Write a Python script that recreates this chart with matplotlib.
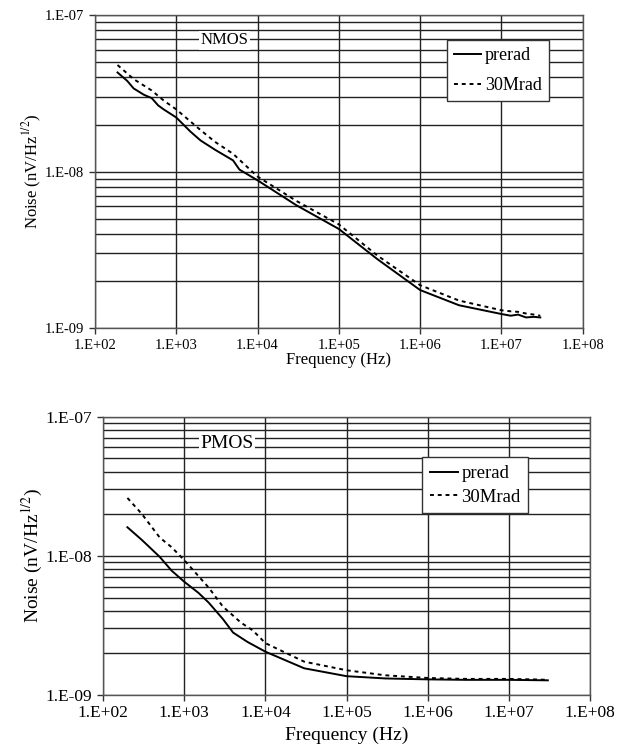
import numpy as np
import matplotlib.pyplot as plt
from matplotlib.ticker import FixedLocator, FuncFormatter, NullFormatter, NullLocator

plt.rcParams['font.family'] = ['Liberation Serif', 'DejaVu Serif']
plt.rcParams['mathtext.fontset'] = 'stix'

# axis ticks
x_ticks = [1e2, 1e3, 1e4, 1e5, 1e6, 1e7, 1e8]
y_ticks = [1e-9, 1e-8, 1e-7]
y_minor = [m * d for d in (1e-9, 1e-8) for m in range(2, 10)]

# NMOS data (Hz, V/Hz^1/2)
nmos_f_pre = [190, 250, 300, 400, 500, 600, 700, 1000, 1500, 2000, 3000, 5000, 6000,
              1e4, 3e4, 1e5, 3e5, 1e6, 3e6, 1e7, 1.3e7, 1.6e7, 2e7, 2.5e7, 3e7]
nmos_pre = [4.3e-8, 3.8e-8, 3.4e-8, 3.1e-8, 2.95e-8, 2.65e-8, 2.5e-8, 2.22e-8, 1.8e-8,
            1.58e-8, 1.38e-8, 1.18e-8, 1.03e-8, 8.8e-9, 6.1e-9, 4.3e-9, 2.75e-9, 1.75e-9,
            1.4e-9, 1.23e-9, 1.2e-9, 1.22e-9, 1.17e-9, 1.18e-9, 1.17e-9]
nmos_f_rad = [190, 300, 500, 700, 1000, 2000, 3000, 5000, 1e4, 3e4, 1e5, 3e5, 1e6,
              3e6, 1e7, 1.3e7, 1.6e7, 2e7, 2.5e7, 3e7]
nmos_rad = [4.8e-8, 3.9e-8, 3.3e-8, 2.85e-8, 2.5e-8, 1.84e-8, 1.55e-8, 1.3e-8, 9.3e-9,
            6.5e-9, 4.6e-9, 2.9e-9, 1.88e-9, 1.5e-9, 1.3e-9, 1.28e-9, 1.27e-9, 1.24e-9,
            1.22e-9, 1.2e-9]

# PMOS data
pmos_f_pre = [200, 300, 500, 700, 1000, 1500, 2000, 3000, 4000, 6000, 1e4, 3e4, 1e5,
              3e5, 1e6, 3e6, 1e7, 3e7]
pmos_pre = [1.6e-8, 1.3e-8, 9.8e-9, 7.8e-9, 6.5e-9, 5.4e-9, 4.6e-9, 3.5e-9, 2.8e-9,
            2.4e-9, 2.04e-9, 1.55e-9, 1.36e-9, 1.31e-9, 1.29e-9, 1.28e-9, 1.28e-9, 1.27e-9]
pmos_f_rad = [200, 300, 500, 700, 1000, 2000, 3000, 5000, 7000, 1e4, 3e4, 1e5, 3e5,
              1e6, 3e6, 1e7, 2e7, 3e7]
pmos_rad = [2.6e-8, 2.0e-8, 1.35e-8, 1.15e-8, 9.3e-9, 5.9e-9, 4.3e-9, 3.3e-9, 2.9e-9,
            2.35e-9, 1.73e-9, 1.5e-9, 1.38e-9, 1.32e-9, 1.3e-9, 1.3e-9, 1.29e-9, 1.28e-9]

ticklabel = FuncFormatter(lambda v, p: "1.E%+03d" % int(round(np.log10(v))))


def panel(ax, f1, y1, f2, y2, name, name_xy, leg_box, fs, lab_fs, leg_fs, leg_sp, xpad):
    ax.plot(f1, y1, color='black', lw=1.4, ls='-', label='prerad', zorder=3)
    ax.plot(f2, y2, color='black', lw=1.4, ls=(0, (2, 2)), label='30Mrad', zorder=3)
    ax.set_xscale('log')
    ax.set_yscale('log')
    ax.set_xlim(1e2, 1e8)
    ax.set_ylim(1e-9, 1e-7)
    ax.xaxis.set_major_locator(FixedLocator(x_ticks))
    ax.yaxis.set_major_locator(FixedLocator(y_ticks))
    ax.yaxis.set_minor_locator(FixedLocator(y_minor))
    ax.xaxis.set_minor_locator(NullLocator())
    ax.xaxis.set_major_formatter(ticklabel)
    ax.yaxis.set_major_formatter(ticklabel)
    ax.yaxis.set_minor_formatter(NullFormatter())
    ax.grid(True, which='major', axis='both', color='#222222', lw=1.0)
    ax.grid(True, which='minor', axis='y', color='#222222', lw=1.0)
    ax.tick_params(which='major', direction='out', length=4, width=1, labelsize=fs,
                   color='#333333')
    ax.tick_params(which='minor', length=0)
    for s in ax.spines.values():
        s.set_color('#555555')
        s.set_linewidth(1.0)
    ax.set_xlabel('Frequency (Hz)', fontsize=lab_fs, labelpad=xpad)
    ax.set_ylabel('Noise (nV/Hz$^{1/2}$)', fontsize=lab_fs, labelpad=1)
    ax.text(name_xy[0], name_xy[1], name, fontsize=lab_fs, ha='center', va='center',
            bbox=dict(facecolor='white', edgecolor='none', pad=1), zorder=4)
    leg = ax.legend(loc='upper left', bbox_to_anchor=leg_box, fontsize=leg_fs,
                    frameon=True, fancybox=False, framealpha=1, edgecolor='#333333',
                    handlelength=1.5, handletextpad=0.2, borderpad=0.4,
                    labelspacing=leg_sp, borderaxespad=0)
    leg.get_frame().set_linewidth(1.0)


fig = plt.figure(figsize=(6.24, 7.56), dpi=100)
ax1 = fig.add_axes([0.152, 0.566, 0.782, 0.414])
ax2 = fig.add_axes([0.165, 0.081, 0.781, 0.368])

panel(ax1, nmos_f_pre, nmos_pre, nmos_f_rad, nmos_rad, 'NMOS', (3.9e3, 6.9e-8),
      (0.722, 0.92), 10.5, 12, 13, 0.7, 0)
panel(ax2, pmos_f_pre, pmos_pre, pmos_f_rad, pmos_rad, 'PMOS', (3.4e3, 6.4e-8),
      (0.655, 0.853), 12.5, 14, 13.5, 0.35, 4)

fig.savefig('out.png', dpi=100)
